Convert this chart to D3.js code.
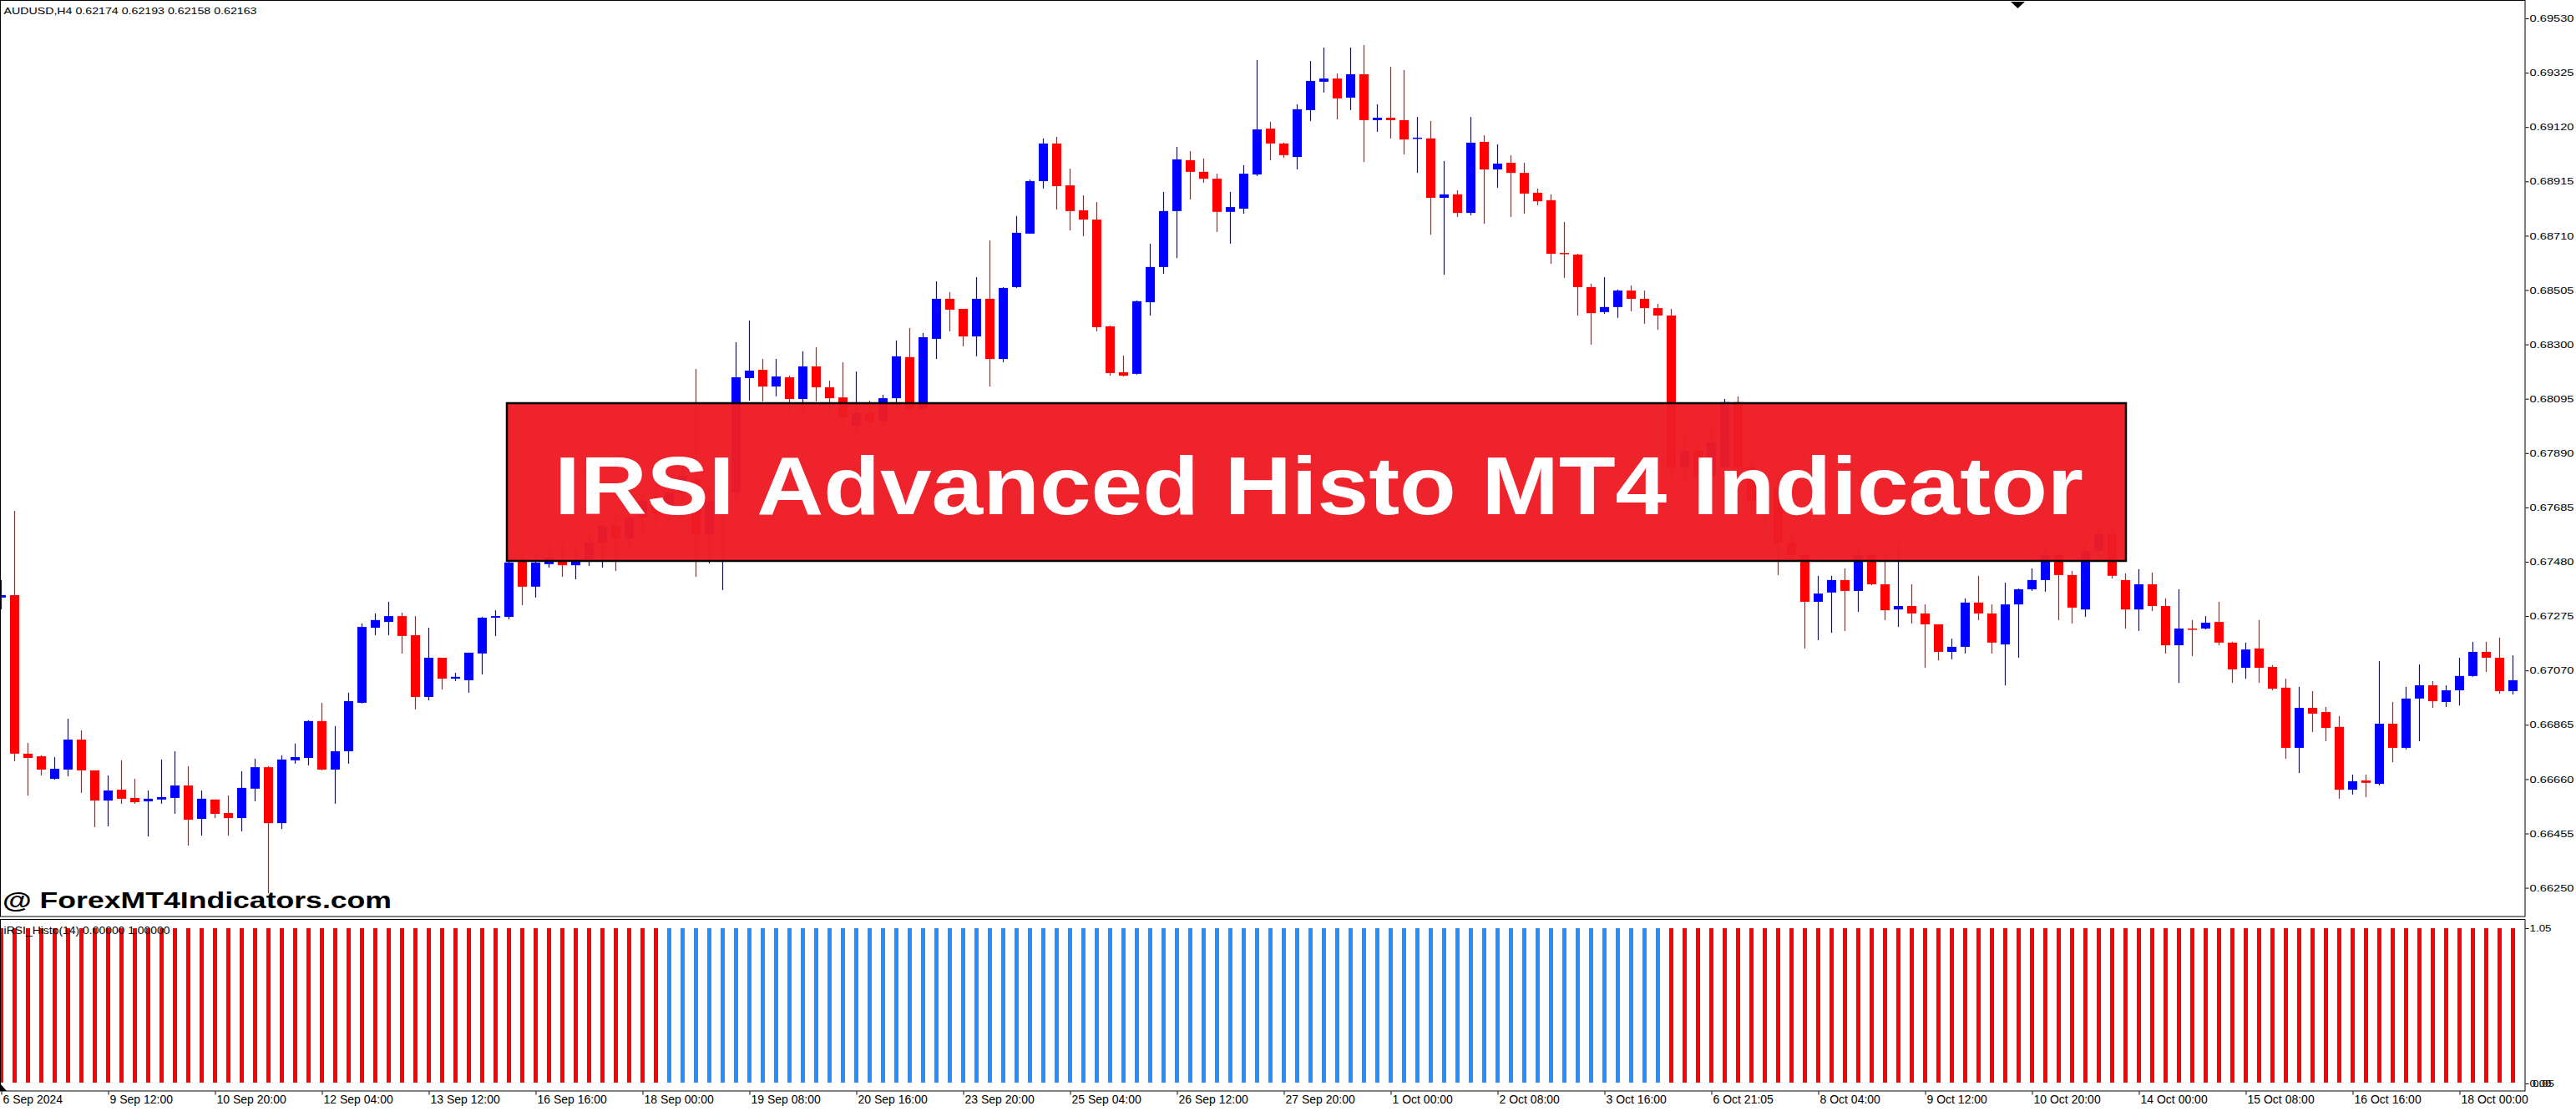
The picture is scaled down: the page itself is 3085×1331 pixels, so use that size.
<!DOCTYPE html>
<html><head><meta charset="utf-8">
<script src="https://cdn.jsdelivr.net/npm/d3@7"></script>
<style>html,body{margin:0;padding:0;background:#fff;} svg{display:block}</style>
</head><body>
<svg id="c" width="3085" height="1331"></svg>
<script>
// ---------- DATA (AUDUSD H4) ----------
const openP = [
0.67345,0.67354,0.66756,0.66746,0.66661,0.66696,0.66809,0.66693,0.66579,0.66620,
0.66589,0.66576,0.66583,0.66589,0.66636,0.66510,0.66583,0.66532,0.66513,0.66624,
0.66705,0.66494,0.66731,0.66740,0.66879,0.66696,0.66765,0.66948,0.67231,0.67253,
0.67275,0.67203,0.66970,0.67118,0.67039,0.67033,0.67134,0.67269,0.67272,0.67490,
0.67386,0.67471,0.67483,0.67467,0.67490,0.67552,0.67615,0.67568,0.67647,0.67710,
0.67663,0.67741,0.67789,0.67584,0.67710,0.67741,0.68173,0.68204,0.68141,0.68176,
0.68094,0.68217,0.68138,0.68100,0.67993,0.68041,0.68009,0.68097,0.68252,0.68056,
0.68321,0.68472,0.68434,0.68330,0.68472,0.68245,0.68516,0.68718,0.68916,0.69058,
0.68900,0.68806,0.68771,0.68368,0.68195,0.68189,0.68459,0.68592,0.68803,0.68995,
0.68951,0.68925,0.68800,0.68812,0.68941,0.69114,0.69058,0.69007,0.69184,0.69291,
0.69303,0.69231,0.69319,0.69146,0.69155,0.69146,0.69077,0.69077,0.68853,0.68866,
0.68796,0.69064,0.68960,0.68985,0.68947,0.68872,0.68844,0.68645,0.68639,0.68516,
0.68422,0.68441,0.68503,0.68472,0.68437,0.68409,0.67836,0.67899,0.67804,0.67836,
0.68082,0.67836,0.67710,0.67757,0.67552,0.67505,0.67329,0.67364,0.67411,0.67370,
0.67505,0.67395,0.67300,0.67313,0.67285,0.67244,0.67140,0.67159,0.67326,0.67285,
0.67168,0.67319,0.67376,0.67411,0.67505,0.67430,0.67300,0.67521,0.67584,0.67411,
0.67300,0.67395,0.67313,0.67165,0.67228,0.67228,0.67253,0.67175,0.67080,0.67153,
0.67083,0.67005,0.66778,0.66929,0.66913,0.66857,0.66620,0.66655,0.66642,0.66869,
0.66778,0.66964,0.67014,0.66951,0.66995,0.67049,0.67140,0.67118,0.66992];
const highP = [
0.67411,0.67672,0.66797,0.66750,0.66743,0.66888,0.66844,0.66693,0.66674,0.66731,
0.66661,0.66617,0.66734,0.66765,0.66709,0.66617,0.66583,0.66598,0.66690,0.66737,
0.66709,0.66750,0.66794,0.66882,0.66948,0.66860,0.66986,0.67247,0.67285,0.67329,
0.67288,0.67275,0.67231,0.67118,0.67061,0.67137,0.67272,0.67297,0.67521,0.67521,
0.67505,0.67552,0.67552,0.67537,0.67584,0.67647,0.67663,0.67694,0.67741,0.67757,
0.67804,0.67852,0.68207,0.67773,0.67836,0.68308,0.68390,0.68245,0.68245,0.68182,
0.68274,0.68289,0.68163,0.68233,0.68198,0.68088,0.68110,0.68315,0.68362,0.68343,
0.68538,0.68497,0.68434,0.68554,0.68692,0.68516,0.68784,0.68922,0.69077,0.69083,
0.68963,0.68862,0.68837,0.68371,0.68258,0.68466,0.68680,0.68875,0.69045,0.69029,
0.69001,0.68944,0.68875,0.68976,0.69373,0.69140,0.69061,0.69206,0.69369,0.69420,
0.69322,0.69420,0.69429,0.69206,0.69347,0.69335,0.69158,0.69143,0.68992,0.68881,
0.69158,0.69089,0.69055,0.69014,0.68985,0.68888,0.68866,0.68762,0.68642,0.68529,
0.68554,0.68507,0.68522,0.68503,0.68453,0.68434,0.67962,0.67930,0.67993,0.68094,
0.68104,0.67867,0.67804,0.67804,0.67584,0.67521,0.67427,0.67427,0.67455,0.67537,
0.67521,0.67521,0.67552,0.67395,0.67319,0.67244,0.67190,0.67342,0.67427,0.67319,
0.67401,0.67379,0.67455,0.67537,0.67521,0.67445,0.67552,0.67615,0.67615,0.67436,
0.67452,0.67439,0.67342,0.67376,0.67260,0.67275,0.67329,0.67178,0.67175,0.67260,
0.67090,0.67039,0.67008,0.66992,0.66932,0.66898,0.66677,0.66677,0.67105,0.66951,
0.67008,0.67093,0.67030,0.67014,0.67118,0.67178,0.67178,0.67194,0.67127];
const lowP = [
0.67300,0.66727,0.66598,0.66674,0.66658,0.66671,0.66608,0.66479,0.66482,0.66567,
0.66567,0.66444,0.66567,0.66529,0.66409,0.66447,0.66513,0.66447,0.66463,0.66576,
0.66230,0.66472,0.66718,0.66712,0.66693,0.66567,0.66718,0.66945,0.67203,0.67203,
0.67134,0.66923,0.66957,0.66998,0.67030,0.66986,0.67055,0.67200,0.67263,0.67316,
0.67345,0.67458,0.67423,0.67414,0.67464,0.67458,0.67445,0.67521,0.67584,0.67615,
0.67631,0.67710,0.67423,0.67474,0.67373,0.67710,0.68088,0.68085,0.68104,0.68041,
0.68025,0.68085,0.68041,0.67993,0.67962,0.67978,0.67993,0.68072,0.68025,0.68041,
0.68245,0.68349,0.68293,0.68255,0.68141,0.68233,0.68513,0.68718,0.68888,0.68809,
0.68730,0.68708,0.68349,0.68182,0.68179,0.68186,0.68409,0.68566,0.68626,0.68847,
0.68910,0.68724,0.68680,0.68793,0.68935,0.68995,0.69004,0.68960,0.69143,0.69250,
0.69149,0.69184,0.68988,0.69102,0.69077,0.69017,0.68947,0.68714,0.68563,0.68781,
0.68787,0.68755,0.68891,0.68781,0.68793,0.68825,0.68604,0.68551,0.68409,0.68299,
0.68415,0.68400,0.68425,0.68378,0.68355,0.67789,0.67773,0.67741,0.67741,0.67804,
0.67773,0.67647,0.67615,0.67430,0.67490,0.67153,0.67184,0.67212,0.67219,0.67291,
0.67392,0.67260,0.67234,0.67247,0.67080,0.67108,0.67112,0.67134,0.67260,0.67134,
0.67014,0.67118,0.67370,0.67367,0.67260,0.67247,0.67272,0.67496,0.67417,0.67228,
0.67219,0.67294,0.67134,0.67023,0.67124,0.67225,0.67165,0.67023,0.67039,0.67023,
0.66995,0.66737,0.66683,0.66838,0.66803,0.66586,0.66602,0.66592,0.66636,0.66724,
0.66772,0.66803,0.66929,0.66932,0.66938,0.67046,0.67064,0.66982,0.66979];
const closeP = [
0.67354,0.66756,0.66740,0.66696,0.66699,0.66809,0.66693,0.66579,0.66617,0.66586,
0.66573,0.66586,0.66592,0.66636,0.66507,0.66586,0.66529,0.66513,0.66627,0.66705,
0.66494,0.66734,0.66743,0.66879,0.66696,0.66765,0.66954,0.67234,0.67260,0.67275,
0.67200,0.66970,0.67118,0.67039,0.67046,0.67137,0.67269,0.67275,0.67477,0.67386,
0.67477,0.67496,0.67467,0.67483,0.67552,0.67615,0.67568,0.67647,0.67710,0.67663,
0.67741,0.67804,0.67584,0.67710,0.67741,0.68176,0.68201,0.68141,0.68179,0.68094,
0.68217,0.68138,0.68097,0.68025,0.68041,0.68009,0.68097,0.68255,0.68056,0.68327,
0.68472,0.68431,0.68330,0.68472,0.68245,0.68513,0.68721,0.68916,0.69058,0.68897,
0.68803,0.68771,0.68365,0.68192,0.68182,0.68463,0.68592,0.68803,0.68998,0.68951,
0.68925,0.68800,0.68818,0.68944,0.69111,0.69058,0.69014,0.69187,0.69294,0.69303,
0.69228,0.69319,0.69146,0.69155,0.69146,0.69073,0.69080,0.68853,0.68866,0.68796,
0.69061,0.68960,0.68982,0.68947,0.68869,0.68840,0.68642,0.68642,0.68516,0.68418,
0.68441,0.68503,0.68472,0.68437,0.68409,0.67836,0.67899,0.67804,0.67930,0.68082,
0.67836,0.67710,0.67773,0.67552,0.67505,0.67329,0.67360,0.67411,0.67370,0.67505,
0.67395,0.67297,0.67313,0.67285,0.67244,0.67140,0.67159,0.67326,0.67285,0.67175,
0.67319,0.67376,0.67411,0.67505,0.67430,0.67307,0.67521,0.67584,0.67427,0.67300,
0.67395,0.67313,0.67165,0.67228,0.67225,0.67250,0.67175,0.67074,0.67149,0.67080,
0.67001,0.66778,0.66929,0.66907,0.66853,0.66620,0.66652,0.66646,0.66869,0.66778,
0.66964,0.67014,0.66954,0.66995,0.67049,0.67140,0.67118,0.66992,0.67033];

// iRSI_Histo buffer values and state per bar (d = red / down, u = blue / up)
const histoValues = [
1,1,1,1,1,1,1,1,1,1,1,1,1,1,1,1,1,1,1,1,1,
1,1,1,1,1,1,1,1,1,1,1,1,1,1,1,1,1,1,1,1,1,
1,1,1,1,1,1,1,1,1,1,1,1,1,1,1,1,1,1,1,1,1,
1,1,1,1,1,1,1,1,1,1,1,1,1,1,1,1,1,1,1,1,1,
1,1,1,1,1,1,1,1,1,1,1,1,1,1,1,1,1,1,1,1,1,
1,1,1,1,1,1,1,1,1,1,1,1,1,1,1,1,1,1,1,1,1,
1,1,1,1,1,1,1,1,1,1,1,1,1,1,1,1,1,1,1,1,1,
1,1,1,1,1,1,1,1,1,1,1,1,1,1,1,1,1,1,1,1,1,
1,1,1,1,1,1,1,1,1,1,1,1,1,1,1,1,1,1,1,1,1];
const histoState =
  "dddddddddd"+"dddddddddd"+"dddddddddd"+"dddddddddd"+"dddddddddd"+
  "uuuuuuuuuu"+"uuuuuuuuuu"+"uuuuuuuuuu"+"uuuuuuuuuu"+"uuuuuuuuuu"+"uuuuuuuuuu"+"uuuuuuuuuu"+"uuuuu"+
  "dddddddddd"+"dddddddddd"+"dddddddddd"+"dddddddddd"+"dddddddddd"+"dddddddddd"+"dddd";

const priceTicks = [0.69530,0.69325,0.69120,0.68915,0.68710,0.68505,0.68300,0.68095,0.67890,
  0.67685,0.67480,0.67275,0.67070,0.66865,0.66660,0.66455,0.66250];
const timeTickIndex = [0,8,16,24,32,40,48,56,64,72,80,88,96,104,112,120,128,136,144,152,160,168,176,184];
const timeTickLabels = ["6 Sep 2024","9 Sep 12:00","10 Sep 20:00","12 Sep 04:00","13 Sep 12:00",
  "16 Sep 16:00","18 Sep 00:00","19 Sep 08:00","20 Sep 16:00","23 Sep 20:00","25 Sep 04:00",
  "26 Sep 12:00","27 Sep 20:00","1 Oct 00:00","2 Oct 08:00","3 Oct 16:00","6 Oct 21:05",
  "8 Oct 04:00","9 Oct 12:00","10 Oct 20:00","14 Oct 00:00","15 Oct 08:00","16 Oct 16:00","18 Oct 00:00"];
const indTickValues = [1.05, 0.00];
const indTickLabels = ["1.05", "0.00"];

const headerText = "AUDUSD,H4  0.62174 0.62193 0.62158 0.62163";
const indicatorText = "iRSI_Histo(14) 0.00000 1.00000";
const bannerText = "IRSI Advanced Histo MT4 Indicator";
const watermarkText = "@ ForexMT4Indicators.com";

// ---------- LAYOUT ----------
const svg = d3.select("#c");
const axisX = 3024, mainTop = 0, mainBottom = 1098, indTop = 1101, indBottom = 1307;
const n = openP.length;
const BULL = "#0000ff", BEAR = "#ff0000";
const HUP = "#1e90ff", HDN = "#ff0000";
const FONT = "'Liberation Sans', Arial, sans-serif";

svg.append("rect").attr("width",3085).attr("height",1331).attr("fill","#fff");

const x = d3.scaleLinear().domain([0, n - 1]).range([1, 1 + 16 * (n - 1)]);
const y = d3.scaleLinear().domain([0.66250, 0.69530]).range([1063.6, 22]);
const yi = d3.scaleLinear().domain([0, 1]).range([1297, 1112]);

const defs = svg.append("defs");
defs.append("clipPath").attr("id","clipMain").append("rect")
  .attr("x",0).attr("y",mainTop).attr("width",axisX).attr("height",mainBottom-mainTop);
defs.append("clipPath").attr("id","clipInd").append("rect")
  .attr("x",0).attr("y",indTop).attr("width",axisX).attr("height",indBottom-indTop);

const bars = d3.range(n).map(i => ({i, o: openP[i], h: highP[i], l: lowP[i], c: closeP[i]}));

// candles
const gC = svg.append("g").attr("clip-path","url(#clipMain)");
gC.selectAll("line.w").data(bars).join("line")
  .attr("x1", d => Math.round(x(d.i)) + 0.5).attr("x2", d => Math.round(x(d.i)) + 0.5)
  .attr("y1", d => y(d.h)).attr("y2", d => y(d.l))
  .attr("stroke", d => d.c >= d.o ? BULL : BEAR).attr("stroke-width", 1.2);
gC.selectAll("rect.b").data(bars).join("rect")
  .attr("x", d => Math.round(x(d.i)) - 5).attr("width", 11)
  .attr("y", d => y(Math.max(d.o, d.c)))
  .attr("height", d => Math.max(1.5, Math.abs(y(d.o) - y(d.c))))
  .attr("fill", d => d.c >= d.o ? BULL : BEAR);

// watermark
svg.append("text").attr("x",3).attr("y",1088).attr("font-family",FONT).attr("font-weight","bold")
  .attr("font-size",28).attr("textLength",466).attr("lengthAdjust","spacingAndGlyphs")
  .attr("fill","#000").text(watermarkText);

// banner
svg.append("rect").attr("x",607).attr("y",483).attr("width",1939).attr("height",189)
  .attr("fill","#ed1c24").attr("fill-opacity",0.97).attr("stroke","#000").attr("stroke-width",2.5);
svg.append("text").attr("x",664).attr("y",616).attr("font-family",FONT).attr("font-weight","bold")
  .attr("font-size",98).attr("textLength",1831).attr("lengthAdjust","spacingAndGlyphs")
  .attr("fill","#fff").text(bannerText);

// header
svg.append("text").attr("x",4.5).attr("y",17).attr("font-family",FONT).attr("font-size",11.5)
  .attr("textLength",303).attr("lengthAdjust","spacingAndGlyphs").attr("fill","#000").text(headerText);

// shift marker (top)
svg.append("path").attr("d","M2408,2 L2425,2 L2416.5,10 Z").attr("fill","#000");

// main frame
svg.append("rect").attr("x",0.5).attr("y",0.5).attr("width",axisX-0.5).attr("height",mainBottom-0.5)
  .attr("fill","none").attr("stroke","#000").attr("stroke-width",1);

// price axis
const pAxis = svg.append("g").attr("transform",`translate(${axisX+0.5},0)`)
  .call(d3.axisRight(y).tickValues(priceTicks).tickFormat(d3.format(".5f")).tickSize(4).tickPadding(1));
pAxis.select(".domain").remove();
pAxis.selectAll("line").attr("stroke","#000");
pAxis.selectAll("text").attr("font-family",FONT).attr("font-size",11.5).attr("fill","#000")
  .attr("textLength",53).attr("lengthAdjust","spacingAndGlyphs");

// indicator bars
const gI = svg.append("g").attr("clip-path","url(#clipInd)");
gI.selectAll("rect").data(bars).join("rect")
  .attr("x", d => Math.round(x(d.i)) - 2).attr("width", 5)
  .attr("y", d => yi(histoValues[d.i])).attr("height", d => yi(0) - yi(histoValues[d.i]))
  .attr("fill", d => histoState[d.i] === "u" ? HUP : HDN);

svg.append("text").attr("x",4.6).attr("y",1119).attr("font-family",FONT).attr("font-size",12)
  .attr("textLength",199).attr("lengthAdjust","spacingAndGlyphs").attr("fill","#000").text(indicatorText);

// indicator frame
svg.append("rect").attr("x",0.5).attr("y",indTop+0.5).attr("width",axisX-0.5).attr("height",indBottom-indTop-0.5)
  .attr("fill","none").attr("stroke","#000").attr("stroke-width",1);

// indicator axis
const yiAxisScale = d3.scaleLinear().domain([0, 1.05]).range([1298, 1112]);
const iAxis = svg.append("g").attr("transform",`translate(${axisX+0.5},0)`)
  .call(d3.axisRight(yiAxisScale).tickValues(indTickValues).tickFormat((d,k)=>indTickLabels[k]).tickSize(4).tickPadding(1));
iAxis.select(".domain").remove();
iAxis.selectAll("text").attr("font-family",FONT).attr("font-size",11.5).attr("fill","#000")
  .attr("textLength",26).attr("lengthAdjust","spacingAndGlyphs");
// overlapped second bottom label as seen in MT4
svg.append("text").attr("x",axisX+9).attr("y",yiAxisScale(0)).attr("dy","0.32em").attr("font-family",FONT)
  .attr("font-size",11.5).attr("textLength",26).attr("lengthAdjust","spacingAndGlyphs").attr("fill","#000").text("0.05");

// bottom-left marker
svg.append("path").attr("d","M0,1298 L0,1307 L8,1307 Z").attr("fill","#000");

// time axis
const tAxis = svg.append("g").attr("transform",`translate(0,${indBottom+0.5})`)
  .call(d3.axisBottom(x).tickValues(timeTickIndex).tickFormat((d,k)=>timeTickLabels[k]).tickSize(4).tickPadding(0));
tAxis.select(".domain").remove();
tAxis.selectAll(".tick line").attr("stroke","#000").attr("transform","translate(0.5,0)");
tAxis.selectAll("text").attr("font-family",FONT).attr("font-size",14).attr("fill","#000")
  .attr("text-anchor","start").attr("x",2).attr("y",14.5).attr("dy",0);
</script>
</body></html>
